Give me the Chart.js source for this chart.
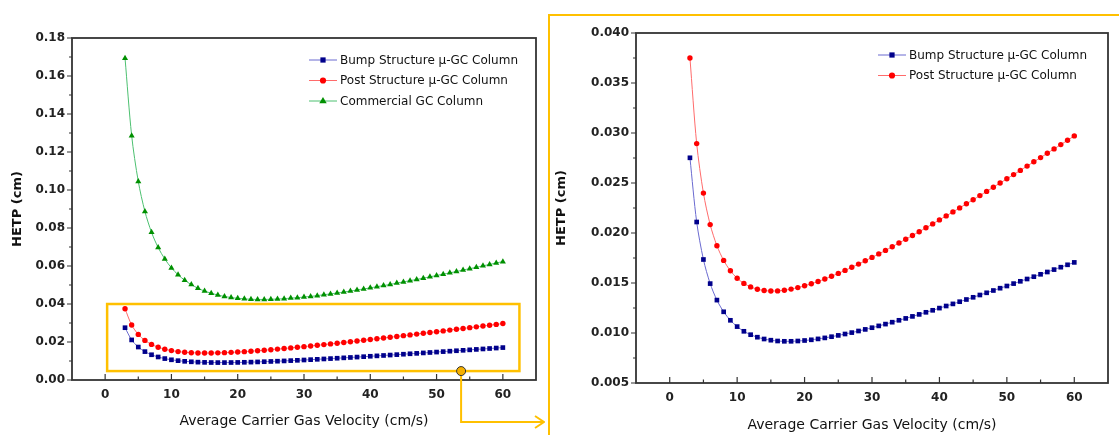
<!DOCTYPE html>
<html>
<head>
<meta charset="utf-8">
<script src="https://cdn.jsdelivr.net/npm/chart.js@4.4.0/dist/chart.umd.min.js"></script>
<style>
  body { margin: 0; background: #fff; width: 1119px; height: 435px; overflow: hidden; position: relative; }
  #leftBox { position: absolute; left: 0; top: 0; width: 545px; height: 435px; }
  #rightBox { position: absolute; left: 545px; top: 0; width: 574px; height: 435px; }
  #zoomFrame { position: absolute; left: 548px; top: 14px; width: 700px; height: 600px;
               border-left: 2.5px solid #FFC000; border-top: 2.5px solid #FFC000; }
</style>
</head>
<body>
<div id="zoomFrame"></div>
<div id="leftBox"><canvas id="leftChart"></canvas></div>
<div id="rightBox"><canvas id="rightChart"></canvas></div>
<script>
// Data -------------------------------
var velocity = [3, 4, 5, 6, 7, 8, 9, 10, 11, 12, 13, 14, 15, 16, 17, 18, 19, 20,
  21, 22, 23, 24, 25, 26, 27, 28, 29, 30, 31, 32, 33, 34, 35, 36, 37, 38, 39, 40,
  41, 42, 43, 44, 45, 46, 47, 48, 49, 50, 51, 52, 53, 54, 55, 56, 57, 58, 59, 60];

var bumpHetp = [0.02752, 0.02110, 0.01735, 0.01494, 0.01329, 0.01212, 0.01127, 0.01064,
  0.01017, 0.00983, 0.00958, 0.00940, 0.00928, 0.00920, 0.00917, 0.00917, 0.00920, 0.00925,
  0.00932, 0.00941, 0.00951, 0.00963, 0.00976, 0.00990, 0.01004, 0.01020, 0.01036, 0.01053,
  0.01071, 0.01089, 0.01108, 0.01127, 0.01146, 0.01166, 0.01186, 0.01207, 0.01227, 0.01249,
  0.01270, 0.01291, 0.01313, 0.01335, 0.01357, 0.01380, 0.01402, 0.01425, 0.01448, 0.01470,
  0.01494, 0.01517, 0.01540, 0.01563, 0.01587, 0.01610, 0.01634, 0.01658, 0.01682, 0.01706];

var postHetp = [0.03750, 0.02894, 0.02399, 0.02084, 0.01873, 0.01726, 0.01622, 0.01548,
  0.01496, 0.01461, 0.01438, 0.01425, 0.01420, 0.01421, 0.01428, 0.01439, 0.01454, 0.01472,
  0.01492, 0.01515, 0.01540, 0.01567, 0.01596, 0.01626, 0.01657, 0.01689, 0.01722, 0.01756,
  0.01791, 0.01826, 0.01863, 0.01900, 0.01937, 0.01975, 0.02013, 0.02052, 0.02091, 0.02131,
  0.02171, 0.02211, 0.02251, 0.02292, 0.02333, 0.02374, 0.02416, 0.02458, 0.02500, 0.02542,
  0.02584, 0.02626, 0.02669, 0.02712, 0.02754, 0.02797, 0.02841, 0.02884, 0.02927, 0.02971];

var commercialHetp = [0.1694, 0.1286, 0.1045, 0.0887, 0.0777, 0.0697, 0.0637, 0.0590,
  0.0554, 0.0525, 0.0502, 0.0483, 0.0468, 0.0457, 0.0447, 0.0440, 0.0434, 0.0430,
  0.0427, 0.0425, 0.0424, 0.0424, 0.0425, 0.0426, 0.0428, 0.0431, 0.0433, 0.0437,
  0.0440, 0.0444, 0.0449, 0.0453, 0.0458, 0.0463, 0.0468, 0.0474, 0.0479, 0.0485,
  0.0491, 0.0497, 0.0503, 0.0510, 0.0516, 0.0523, 0.0529, 0.0536, 0.0543, 0.0550,
  0.0557, 0.0564, 0.0571, 0.0579, 0.0586, 0.0593, 0.0601, 0.0608, 0.0616, 0.0623];

var seriesNames = ["Bump Structure \u03bc-GC Column", "Post Structure \u03bc-GC Column", "Commercial GC Column"];

var xTickValues = [0, 10, 20, 30, 40, 50, 60];
var leftYTicks = [0, 0.02, 0.04, 0.06, 0.08, 0.10, 0.12, 0.14, 0.16, 0.18];
var rightYTicks = [0.005, 0.010, 0.015, 0.020, 0.025, 0.030, 0.035, 0.040];

// zoom window drawn on the left chart, in data units: x0, x1, y0, y1, marker x
var zoomWindow = [0.3, 62.5, 0.0047, 0.040, 53.7];


// Helpers ----------
function points(values) {
  return velocity.map(function (v, i) { return { x: v, y: values[i] }; });
}

var FONT = '"DejaVu Sans", sans-serif';

function bumpSet() {
  return { label: seriesNames[0], data: points(bumpHetp), borderColor: '#6a6ad0', borderWidth: 1,
    pointStyle: 'rect', pointRadius: 3.3, pointBackgroundColor: '#00008b', pointBorderWidth: 0, tension: 0.3 };
}
function postSet() {
  return { label: seriesNames[1], data: points(postHetp), borderColor: '#ff6b6b', borderWidth: 1,
    pointStyle: 'circle', pointRadius: 2.7, pointBackgroundColor: '#ff0000', pointBorderWidth: 0, tension: 0.3 };
}
function commercialSet() {
  return { label: seriesNames[2], data: points(commercialHetp), borderColor: '#4cc070', borderWidth: 1,
    pointStyle: 'triangle', pointRadius: 3.5, pointBackgroundColor: '#009000', pointBorderWidth: 0, tension: 0.3 };
}

function drawMarker(ctx, style, x, y, r) {
  ctx.beginPath();
  if (style === 'rect') {
    var s = r * Math.SQRT1_2;
    ctx.rect(x - s, y - s, 2 * s, 2 * s);
  } else if (style === 'triangle') {
    ctx.moveTo(x, y - r);
    ctx.lineTo(x + r * 0.95, y + r * 0.6);
    ctx.lineTo(x - r * 0.95, y + r * 0.6);
    ctx.closePath();
  } else {
    ctx.arc(x, y, r, 0, Math.PI * 2);
  }
  ctx.fill();
}

// frame, inward x ticks, outward y ticks (major + minor)
var frameTicks = {
  id: 'frameTicks',
  afterDraw: function (chart, args, o) {
    var ctx = chart.ctx, a = chart.chartArea, xs = chart.scales.x, ys = chart.scales.y;
    ctx.save();
    ctx.strokeStyle = '#333';
    ctx.lineWidth = 1.8;
    ctx.strokeRect(a.left, a.top, a.right - a.left, a.bottom - a.top);
    ctx.lineWidth = 1.2;
    ctx.beginPath();
    for (var i = 0; i <= 12; i++) {
      var px = xs.getPixelForValue(i * 5);
      ctx.moveTo(px, a.bottom);
      ctx.lineTo(px, a.bottom - (i % 2 === 0 ? 6 : 3.5));
    }
    var n = Math.round((o.yMax - o.yMin) / o.yMinor);
    for (var j = 0; j <= n; j++) {
      var py = ys.getPixelForValue(o.yMin + j * o.yMinor);
      ctx.moveTo(a.left, py);
      ctx.lineTo(a.left - (j % 2 === 0 ? 5 : 3), py);
    }
    ctx.stroke();
    ctx.restore();
  }
};

// legend drawn as line + marker, like the original plot
var lineLegend = {
  id: 'lineLegend',
  afterDraw: function (chart, args, o) {
    var ctx = chart.ctx, a = chart.chartArea;
    var x0 = a.right - o.fromRight, y0 = a.top + 22;
    ctx.save();
    ctx.font = '12px ' + FONT;
    ctx.textBaseline = 'middle';
    chart.data.datasets.forEach(function (ds, i) {
      var y = y0 + i * 20.5;
      ctx.strokeStyle = ds.borderColor;
      ctx.lineWidth = 1;
      ctx.beginPath();
      ctx.moveTo(x0, y);
      ctx.lineTo(x0 + 28, y);
      ctx.stroke();
      ctx.fillStyle = ds.pointBackgroundColor;
      drawMarker(ctx, ds.pointStyle, x0 + 14, y, ds.pointRadius + 0.4);
      ctx.fillStyle = '#111';
      ctx.fillText(ds.label, x0 + 31, y + 0.5);
    });
    ctx.restore();
  }
};

// yellow zoom box with marker and arrow towards the right panel
var zoomCallout = {
  id: 'zoomCallout',
  afterDraw: function (chart) {
    if (!chart.options.plugins.zoomCallout.show) return;
    var ctx = chart.ctx, xs = chart.scales.x, ys = chart.scales.y;
    var l = xs.getPixelForValue(zoomWindow[0]), r = xs.getPixelForValue(zoomWindow[1]);
    var b = ys.getPixelForValue(zoomWindow[2]), t = ys.getPixelForValue(zoomWindow[3]);
    var cx = xs.getPixelForValue(zoomWindow[4]);
    var ay = chart.height - 13, ax = chart.width - 1;
    ctx.save();
    ctx.strokeStyle = '#FFC000';
    ctx.lineWidth = 2.5;
    ctx.strokeRect(l, t, r - l, b - t);
    ctx.lineWidth = 2;
    ctx.beginPath();
    ctx.moveTo(cx, b);
    ctx.lineTo(cx, ay);
    ctx.lineTo(ax, ay);
    ctx.moveTo(ax - 9, ay - 6);
    ctx.lineTo(ax, ay);
    ctx.lineTo(ax - 9, ay + 6);
    ctx.stroke();
    ctx.beginPath();
    ctx.arc(cx, b, 4.5, 0, Math.PI * 2);
    ctx.fillStyle = '#F5B000';
    ctx.fill();
    ctx.strokeStyle = '#333';
    ctx.lineWidth = 1;
    ctx.stroke();
    ctx.restore();
  }
};

function makeOptions(yMin, yMax, yTicks, digits, yWidth, xHeight, pad, yTitlePad, xTitlePad, legendRight, callout) {
  return {
    responsive: true,
    maintainAspectRatio: false,
    animation: false,
    layout: { padding: pad },
    plugins: {
      legend: { display: false },
      tooltip: { enabled: false },
      frameTicks: { yMin: yMin, yMax: yMax, yMinor: (yTicks[1] - yTicks[0]) / 2 },
      lineLegend: { fromRight: legendRight },
      zoomCallout: { show: callout }
    },
    scales: {
      x: {
        type: 'linear', min: -5, max: 65,
        grid: { display: false }, border: { display: false },
        afterBuildTicks: function (s) { s.ticks = xTickValues.map(function (v) { return { value: v }; }); },
        afterFit: function (s) { s.height = xHeight; },
        ticks: { padding: 0, color: '#222', font: { family: FONT, size: 12, weight: 'bold' } },
        title: { display: true, text: 'Average Carrier Gas Velocity (cm/s)', color: '#111',
          padding: { top: 0, bottom: xTitlePad }, font: { family: FONT, size: 14 } }
      },
      y: {
        min: yMin, max: yMax,
        grid: { display: false }, border: { display: false },
        afterBuildTicks: function (s) { s.ticks = yTicks.map(function (v) { return { value: v }; }); },
        afterFit: function (s) { s.width = yWidth; },
        ticks: { padding: -1, color: '#222', font: { family: FONT, size: 12, weight: 'bold' },
          callback: function (v) { return Number(v).toFixed(digits); } },
        title: { display: true, text: 'HETP (cm)', color: '#111',
          padding: { top: yTitlePad, bottom: 0 }, font: { family: FONT, size: 13, weight: 'bold' } }
      }
    }
  };
}

// Left chart: all three columns ----------
new Chart(document.getElementById('leftChart').getContext('2d'), {
  type: 'line',
  data: { datasets: [bumpSet(), postSet(), commercialSet()] },
  options: makeOptions(0, 0.18, leftYTicks, 2, 72, 55, { top: 38, right: 9, left: 0, bottom: 0 }, 10, 5, 227, true),
  plugins: [frameTicks, lineLegend, zoomCallout]
});

// Right chart: zoom on the two micro columns ----------
new Chart(document.getElementById('rightChart').getContext('2d'), {
  type: 'line',
  data: { datasets: [bumpSet(), postSet()] },
  options: makeOptions(0.005, 0.040, rightYTicks, 3, 91, 52, { top: 33, right: 11, left: 0, bottom: 0 }, 9, 1, 230, false),
  plugins: [frameTicks, lineLegend, zoomCallout]
});
</script>
</body>
</html>
